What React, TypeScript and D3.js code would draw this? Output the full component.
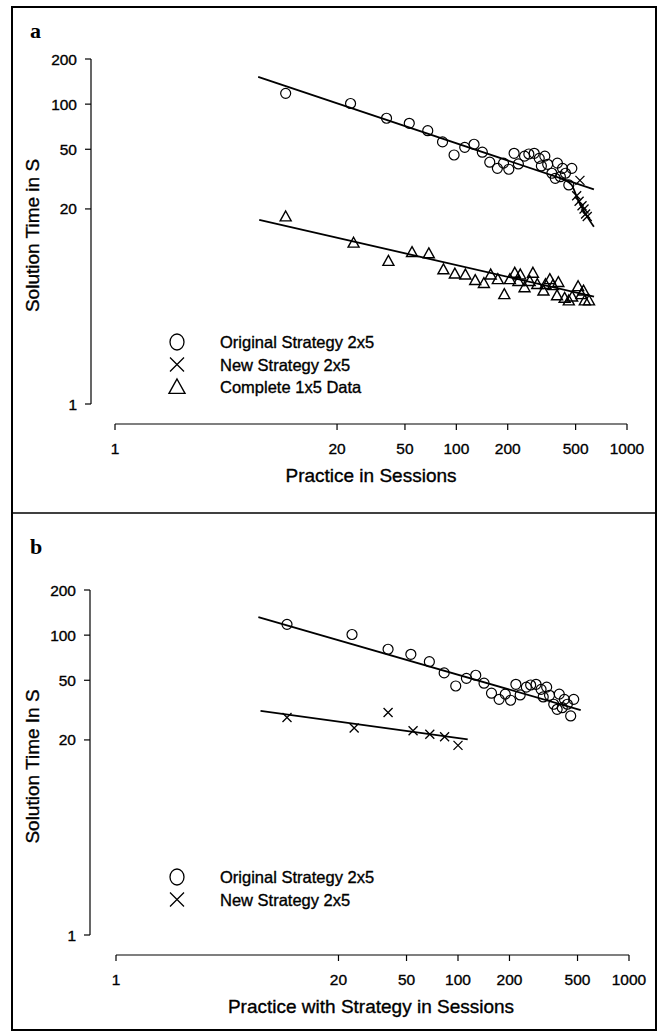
import React from 'react'
import * as d3 from 'd3'

// original strategy 2x5 (same points in both panels)
const origSessions = [10, 24, 39, 53, 68, 83, 97, 112, 127, 142, 157, 174, 189, 203, 218, 231, 251, 266, 286, 306, 315, 330, 343, 363, 380, 391, 407, 419, 436, 456, 475]
const origTimes = [118, 101, 80.5, 74.5, 66.5, 56, 45.8, 51.5, 54, 47.8, 41, 37.3, 40.4, 36.8, 47, 39.9, 45, 46.5, 47, 43.5, 38.7, 45, 39.7, 34.6, 32, 40.4, 32.8, 37.3, 34.6, 28.9, 37.3]

// complete 1x5 data (panel a)
const fullSessions = [10, 25, 40, 55, 69, 84, 98, 113, 129, 145, 159, 175, 191, 206, 220, 231, 237, 251, 269, 281, 298, 324, 333, 353, 368, 389, 396, 431, 456, 477, 517, 540, 556, 566, 599]
const fullTimes = [17.8, 11.9, 9.0, 10.3, 10.1, 7.9, 7.4, 7.3, 6.7, 6.4, 7.3, 6.8, 5.4, 6.8, 7.5, 6.6, 7.3, 6.0, 6.6, 7.5, 6.3, 5.7, 6.3, 6.8, 6.2, 5.3, 6.5, 5.1, 4.9, 5.2, 6.1, 5.4, 5.7, 4.9, 4.9]

// new strategy 2x5, panel a (total practice) and panel b (practice with strategy)
const newSessionsA = [507, 524, 530, 545, 560, 572, 585]
const newTimesA = [24.5, 22.5, 31, 21, 20, 18.5, 17.8]
const newSessionsB = [10, 24.7, 39, 54.6, 68.4, 83.5, 100]
const newTimesB = [28.2, 24, 30.5, 23, 21.8, 21, 18.4]

// fitted lines
const fitOrigA = [[6.9, 152], [640, 27]]
const fitFullA = [[7.0, 16.9], [641, 5.2]]
const fitNewA = [[400, 32.2], [473, 29], [507, 24.2], [554, 19.7], [593, 17.3], [640, 15.2]]
const fitOrigB = [[6.8, 132], [522, 31.6]]
const fitNewB = [[7.0, 31.3], [114, 20.2]]

const xTicks = [1, 20, 50, 100, 200, 500, 1000]
const yTicks = [200, 100, 50, 20, 1]

const font = 'Liberation Sans, Arial, Helvetica, sans-serif'
const ink = { fill: '#000', stroke: '#000', strokeWidth: 0.35 }

function Circle({ x, y, r = 5 }) {
  return <circle cx={x} cy={y} r={r} fill="none" stroke="#000" strokeWidth={1.2} />
}
function Cross({ x, y, s = 4.5 }) {
  return <path d={`M${x - s},${y - s}L${x + s},${y + s}M${x - s},${y + s}L${x + s},${y - s}`} stroke="#000" strokeWidth={1.3} fill="none" />
}
function Tri({ x, y, s = 5.5 }) {
  return <path d={`M${x},${y - s}L${x + s},${y + s * 0.8}L${x - s},${y + s * 0.8}Z`} stroke="#000" strokeWidth={1.4} fill="none" />
}

function Panel({ letter, letterY, top, xRange, yAxisX, xTitle, yTitle, series, fits, legend, legendY }) {
  const yTop = top + 52
  const yBottom = top + 397
  const axisY = top + 417
  const x = d3.scaleLog().domain([1, 1000]).range(xRange)
  const y = d3.scaleLog().domain([1, 200]).range([yBottom, yTop])
  const line = d3.line().x(d => x(d[0])).y(d => y(d[1]))
  const curve = d3.line().x(d => x(d[0])).y(d => y(d[1])).curve(d3.curveMonotoneX)
  return (
    <g>
      <text x={30} y={letterY} fontFamily="Liberation Serif, Times New Roman, serif" fontWeight="bold" fontSize={22}>{letter}</text>
      {/* y axis */}
      <line x1={yAxisX} x2={yAxisX} y1={y(200)} y2={y(1)} stroke="#000" strokeWidth={1.2} />
      {yTicks.map(t => (
        <g key={t}>
          <line x1={yAxisX - 6} x2={yAxisX} y1={y(t)} y2={y(t)} stroke="#000" strokeWidth={1.2} />
          <text x={yAxisX - 14} y={y(t) + 5.5} textAnchor="end" fontFamily={font} fontSize={15.5} {...ink}>{t}</text>
        </g>
      ))}
      <text transform={`translate(39,${(yTop + yBottom) / 2 + 4}) rotate(-90)`} textAnchor="middle" fontFamily={font} fontSize={19} {...ink}>{yTitle}</text>
      {/* x axis */}
      <line x1={x(1)} x2={x(1000)} y1={axisY} y2={axisY} stroke="#000" strokeWidth={1.2} />
      {xTicks.map(t => (
        <g key={t}>
          <line x1={x(t)} x2={x(t)} y1={axisY} y2={axisY + 6} stroke="#000" strokeWidth={1.2} />
          <text x={x(t)} y={axisY + 30} textAnchor="middle" fontFamily={font} fontSize={15.5} {...ink}>{t}</text>
        </g>
      ))}
      <text x={371} y={axisY + 58} textAnchor="middle" fontFamily={font} fontSize={19} {...ink}>{xTitle}</text>
      {/* fitted lines */}
      {fits.map((f, i) => (
        <path key={i} d={(f.curved ? curve : line)(f.pts)} fill="none" stroke="#000" strokeWidth={1.8} />
      ))}
      {/* points */}
      {series.map((s, i) => (
        <g key={i}>
          {s.xs.map((v, j) => {
            const px = x(v), py = y(s.ys[j])
            if (s.kind === 'circle') return <Circle key={j} x={px} y={py} />
            if (s.kind === 'cross') return <Cross key={j} x={px} y={py} />
            return <Tri key={j} x={px} y={py} />
          })}
        </g>
      ))}
      {/* legend */}
      {legend.map((l, i) => {
        const ly = legendY + i * 22.5
        const lx = 177
        return (
          <g key={i}>
            {l.kind === 'circle' && <ellipse cx={lx} cy={ly} rx={7} ry={8} fill="none" stroke="#000" strokeWidth={1.3} />}
            {l.kind === 'cross' && <Cross x={lx} y={ly} s={7} />}
            {l.kind === 'tri' && <Tri x={lx} y={ly} s={8} />}
            <text x={lx + 43} y={ly + 6} fontFamily={font} fontSize={16.5} {...ink}>{l.label}</text>
          </g>
        )
      })}
    </g>
  )
}

export default function App() {
  return (
    <svg width={660} height={1034} style={{ position: 'absolute', left: 0, top: 0, background: '#fff' }}>
      <rect x={12} y={7} width={644} height={1023} fill="none" stroke="#000" strokeWidth={2} />
      <line x1={12} x2={656} y1={513} y2={513} stroke="#000" strokeWidth={1.5} />
      <Panel
        letter="a"
        letterY={38}
        top={7}
        xRange={[115, 627]}
        yAxisX={91}
        xTitle="Practice in Sessions"
        yTitle="Solution Time  in S"
        legendY={342}
        series={[
          { kind: 'circle', xs: origSessions, ys: origTimes },
          { kind: 'cross', xs: newSessionsA, ys: newTimesA },
          { kind: 'tri', xs: fullSessions, ys: fullTimes },
        ]}
        fits={[
          { pts: fitOrigA },
          { pts: fitFullA },
          { pts: fitNewA, curved: true },
        ]}
        legend={[
          { kind: 'circle', label: 'Original Strategy 2x5' },
          { kind: 'cross', label: 'New Strategy 2x5' },
          { kind: 'tri', label: 'Complete 1x5 Data' },
        ]}
      />
      <Panel
        letter="b"
        letterY={554}
        top={538}
        xRange={[116, 629]}
        yAxisX={90}
        xTitle="Practice with Strategy in Sessions"
        yTitle="Solution Time In S"
        legendY={877}
        series={[
          { kind: 'circle', xs: origSessions, ys: origTimes },
          { kind: 'cross', xs: newSessionsB, ys: newTimesB },
        ]}
        fits={[
          { pts: fitOrigB },
          { pts: fitNewB },
        ]}
        legend={[
          { kind: 'circle', label: 'Original Strategy 2x5' },
          { kind: 'cross', label: 'New Strategy 2x5' },
        ]}
      />
    </svg>
  )
}
